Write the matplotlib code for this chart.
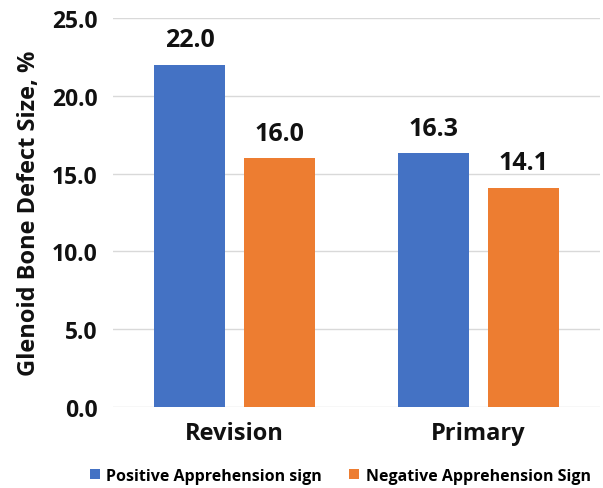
import matplotlib
matplotlib.use("Agg")
import matplotlib.pyplot as plt
import numpy as np

categories = ["Revision", "Primary"]
positive = [22.0, 16.3]
negative = [16.0, 14.1]
series_names = ["Positive Apprehension sign", "Negative Apprehension Sign"]
yticks = [0.0, 5.0, 10.0, 15.0, 20.0, 25.0]

plt.rcParams["font.family"] = ["Open Sans", "DejaVu Sans"]
plt.rcParams["font.weight"] = "bold"

fig = plt.figure(figsize=(6.03, 4.89), dpi=100)
ax = fig.add_axes([113 / 603, 1 - 408 / 489, 487 / 603, 389 / 489])

x = np.arange(len(categories))
w = 0.29
off = 0.185
blue = "#4472C4"
orange = "#ED7D31"
b1 = ax.bar(x - off, positive, w, color=blue, label=series_names[0], zorder=3)
b2 = ax.bar(x + off, negative, w, color=orange, label=series_names[1], zorder=3)

for bars, vals in ((b1, positive), (b2, negative)):
    for r, v in zip(bars, vals):
        ax.text(r.get_x() + r.get_width() / 2, v + 0.8, f"{v:.1f}",
                ha="center", va="bottom", fontsize=18, fontweight="bold",
                color="#111111")

ax.set_xlim(-0.5, 1.5)
ax.set_ylim(0, 25)
ax.set_yticks(yticks)
ax.set_yticklabels([f"{t:.1f}" for t in yticks], fontsize=16.5, fontweight="bold")
ax.set_xticks(x)
ax.set_xticklabels(categories, fontsize=17, fontweight="bold")
ax.tick_params(axis="both", length=0, colors="#111111")
ax.tick_params(axis="y", pad=11)
ax.tick_params(axis="x", pad=10)
for s in ax.spines.values():
    s.set_visible(False)
ax.yaxis.grid(True, color="#D9D9D9", linewidth=1.0, zorder=0)
ax.set_axisbelow(True)

ax.set_ylabel("Glenoid Bone Defect Size, %", fontsize=17, fontweight="bold",
              color="#111111", labelpad=8)

fig.legend(handles=[b1, b2], loc="center left", bbox_to_anchor=(87 / 603, 1 - 477 / 489),
           ncol=2, frameon=False, handlelength=0.6, handleheight=0.6,
           handletextpad=0.42, columnspacing=1.7, borderaxespad=0.0,
           borderpad=0.2, prop={"weight": "bold", "size": 11.5})

fig.savefig("out.png", dpi=100)
